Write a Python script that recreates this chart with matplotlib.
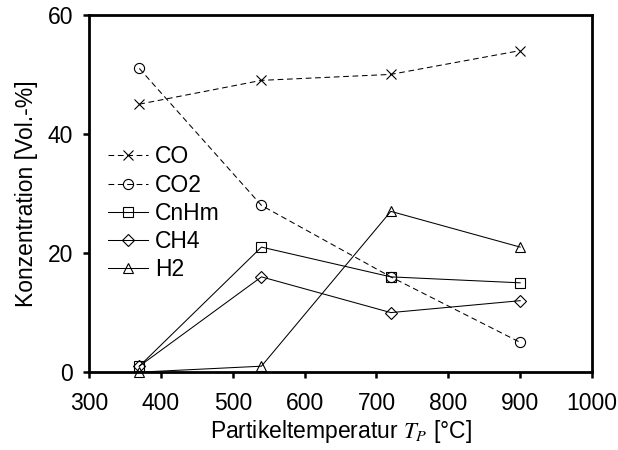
import numpy as np
import matplotlib
matplotlib.use('Agg')
import matplotlib.pyplot as plt

plt.rcParams['font.family'] = ['Liberation Sans', 'DejaVu Sans']
plt.rcParams['mathtext.fontset'] = 'stix'

# === Data ===
temps = [370, 540, 720, 900]
co = [45, 49, 50, 54]
co2 = [51, 28, 16, 5]
cnhm = [1, 21, 16, 15]
ch4 = [1, 16, 10, 12]
h2 = [0, 1, 27, 21]

series = [
    ('CO', co, 'x', '--'),
    ('CO2', co2, 'o', '--'),
    ('CnHm', cnhm, 's', '-'),
    ('CH4', ch4, 'D', '-'),
    ('H2', h2, '^', '-'),
]

FS = 16.5

fig, ax = plt.subplots(figsize=(6.18, 4.5), dpi=100)

for label, vals, marker, ls in series:
    ms = 6.3 if marker == 'D' else 7.3
    ax.plot(temps, vals, color='black', linestyle=ls, linewidth=0.75,
            marker=marker, markersize=ms, markerfacecolor='none',
            markeredgecolor='black', markeredgewidth=0.8, label=label,
            dashes=(5.5, 3.5) if ls == '--' else (None, None), clip_on=False)

ax.set_xlim(300, 1000)
ax.set_ylim(0, 60)
ax.set_xticks(np.arange(300, 1001, 100))
ax.set_yticks([0, 20, 40, 60])
ax.tick_params(direction='out', length=4.3, width=1.8, labelsize=FS)
ax.tick_params(axis='x', pad=10)
ax.tick_params(axis='y', pad=7)
for sp in ax.spines.values():
    sp.set_linewidth(2)

ax.set_xlabel('Partikeltemperatur $T_P$ [°C]', fontsize=FS, labelpad=2)
ax.set_ylabel('Konzentration [Vol.-%]', fontsize=FS, labelpad=7)

ax.legend(loc='upper left', bbox_to_anchor=(0.02, 0.66), frameon=False,
          fontsize=FS, handlelength=1.75, labelspacing=0.22, handletextpad=0.3,
          borderaxespad=0)

fig.subplots_adjust(left=0.144, right=0.958, top=0.967, bottom=0.173)
fig.savefig('out.png', dpi=100)
